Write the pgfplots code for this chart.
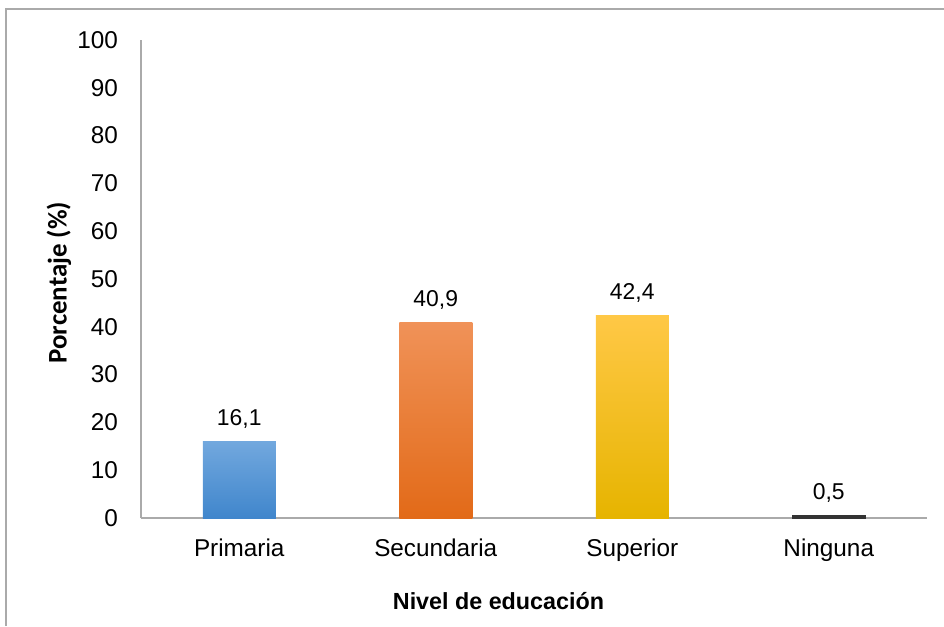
\documentclass[border=0pt]{standalone}
\usepackage{fontspec}
\setmainfont{Liberation Sans}
\newfontfamily\calibri{Carlito}
\usepackage{pgfplots}
\pgfplotsset{compat=1.18}
\definecolor{bluetop}{RGB}{114,168,222}
\definecolor{bluebot}{RGB}{64,134,204}
\definecolor{orangetop}{RGB}{240,146,88}
\definecolor{orangemid}{RGB}{245,124,40}
\definecolor{orangebot}{RGB}{226,106,24}
\definecolor{yellowtop}{RGB}{255,200,70}
\definecolor{yellowmid}{RGB}{255,192,0}
\definecolor{yellowbot}{RGB}{230,180,0}
\definecolor{framegray}{RGB}{170,170,170}
\begin{document}
\begin{tikzpicture}[x=1bp,y=1bp]
\useasboundingbox (0,0) rectangle (472,313);
\draw[framegray, line width=0.8bp] (3,0) -- (3,308.5) -- (472,308.5);
\begin{axis}[
  at={(70.5bp,54bp)}, anchor=south west,
  scale only axis, width=393bp, height=239bp,
  xmin=-0.5, xmax=3.5, ymin=0, ymax=100,
  ytick={0,10,...,100}, xtick={0,1,2,3},
  xticklabels={Primaria,Secundaria,Superior,Ninguna},
  axis x line*=bottom, axis y line*=left,
  axis line style={framegray, line width=0.7bp},
  major tick length=0pt,
  tick label style={font=\fontsize{12.2}{14}\selectfont},
  yticklabel style={xshift=-8bp},
  xticklabel style={yshift=-7bp},
  /pgf/number format/assume math mode=true,
  ybar, bar width=36.5bp,
  nodes near coords={\pgfmathprintnumber[fixed,fixed zerofill,precision=1,use comma,assume math mode=true]{\pgfplotspointmeta}},
  nodes near coords style={font=\fontsize{11.5}{13}\selectfont, yshift=3bp},
]
\addplot[draw=none, bar shift=0pt, top color=bluetop, bottom color=bluebot] coordinates {(0,16.1)};
\addplot[draw=none, bar shift=0pt, top color=orangetop, middle color=orangemid, bottom color=orangebot] coordinates {(1,40.9)};
\addplot[draw=none, bar shift=0pt, top color=yellowtop, middle color=yellowmid, bottom color=yellowbot] coordinates {(2,42.4)};
\addplot[draw=black!80, line width=0.6bp, bar shift=0pt, fill=black!80] coordinates {(3,0.5)};
\end{axis}
\node[rotate=90, font=\calibri\bfseries\fontsize{13.5}{15}\selectfont] at (29.5,171.75) {Porcentaje (\%)};
\node[font=\bfseries\fontsize{11.7}{13}\selectfont] at (249.25,12.5) {Nivel de educación};
\end{tikzpicture}
\end{document}
